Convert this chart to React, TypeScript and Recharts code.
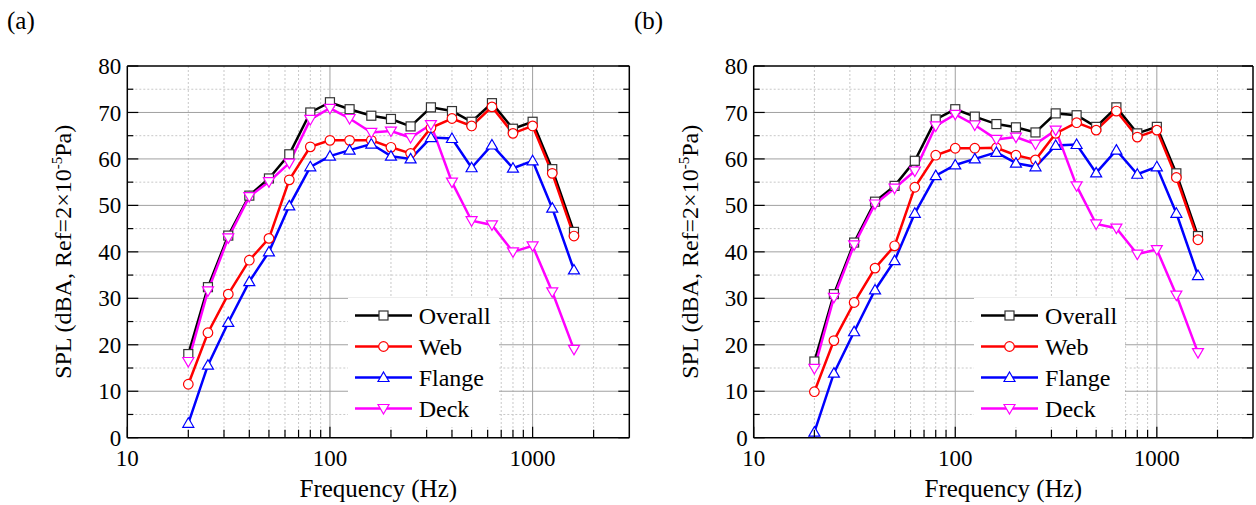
import { CartesianGrid, Label, Legend, Line, LineChart, XAxis, YAxis } from "recharts";

const FONT = '"Liberation Serif", "Times New Roman", serif';

// 1/3-octave band centre frequencies (Hz)
const FREQS = [20, 25, 31.5, 40, 50, 63, 80, 100, 125, 160, 200, 250, 315, 400, 500, 630, 800, 1000, 1250, 1600];

// panel (a)
const A_OVERALL = [18.0, 32.4, 43.5, 52.1, 55.8, 61.0, 70.0, 72.2, 70.7, 69.3, 68.6, 67.0, 71.1, 70.3, 68.0, 72.0, 66.5, 68.0, 57.8, 44.3];
const A_WEB = [11.5, 22.6, 30.9, 38.2, 42.9, 55.5, 62.6, 64.0, 64.0, 64.0, 62.5, 61.2, 66.7, 68.7, 67.1, 71.2, 65.5, 67.1, 56.9, 43.4];
const A_FLANGE = [3.1, 15.6, 24.8, 33.6, 40.0, 49.9, 58.3, 60.6, 61.9, 63.2, 60.6, 60.0, 64.6, 64.4, 58.1, 63.0, 58.0, 59.6, 49.4, 36.1];
const A_DECK = [16.4, 31.6, 43.0, 51.9, 55.1, 59.1, 68.5, 70.9, 68.7, 65.7, 66.0, 64.6, 67.4, 55.0, 46.7, 45.8, 40.0, 41.3, 31.4, 19.0];

// panel (b)
const B_OVERALL = [16.4, 30.9, 42.0, 50.8, 54.2, 59.6, 68.5, 70.7, 69.1, 67.5, 66.8, 65.7, 69.8, 69.4, 66.9, 71.1, 65.5, 66.9, 56.9, 43.4];
const B_WEB = [9.9, 20.9, 29.1, 36.5, 41.3, 53.9, 60.8, 62.3, 62.3, 62.4, 60.8, 59.8, 65.5, 67.8, 66.2, 70.3, 64.7, 66.2, 56.0, 42.6];
const B_FLANGE = [1.2, 13.9, 22.8, 31.8, 38.1, 48.3, 56.4, 58.7, 60.0, 61.4, 59.1, 58.3, 62.9, 63.1, 57.0, 61.9, 56.7, 58.3, 48.3, 34.9];
const B_DECK = [14.9, 30.2, 41.5, 50.3, 53.7, 57.4, 67.1, 69.6, 67.3, 64.2, 64.7, 63.2, 66.2, 54.2, 46.0, 45.1, 39.5, 40.5, 30.7, 18.3];

const X_TICKS = [10, 20, 30, 40, 50, 60, 70, 80, 90, 100, 200, 300, 400, 500, 600, 700, 800, 900, 1000, 2000];
const X_MAJOR = [10, 100, 1000];
const X_GRID_MINOR = [20, 30, 40, 50, 60, 70, 80, 90, 200, 300, 400, 500, 600, 700, 800, 900, 2000];
const X_GRID_MAJOR = [100, 1000];
const Y_TICKS = [0, 5, 10, 15, 20, 25, 30, 35, 40, 45, 50, 55, 60, 65, 70, 75, 80];
const Y_GRID_MINOR = [5, 15, 25, 35, 45, 55, 65, 75];
const Y_GRID_MAJOR = [10, 20, 30, 40, 50, 60, 70];

const SERIES = [
  { key: "overall", name: "Overall", color: "#000000", shape: "square" },
  { key: "web", name: "Web", color: "#ff0000", shape: "circle" },
  { key: "flange", name: "Flange", color: "#0000ff", shape: "up" },
  { key: "deck", name: "Deck", color: "#ff00ff", shape: "down" },
];

const toRows = (overall: number[], web: number[], flange: number[], deck: number[]) =>
  FREQS.map((f, i) => ({ f, overall: overall[i], web: web[i], flange: flange[i], deck: deck[i] }));

function Marker({ cx, cy, shape, color }: { cx?: number; cy?: number; shape: string; color: string }) {
  if (cx == null || cy == null) return null;
  const st = { fill: "#fff", stroke: color, strokeWidth: 1.2 };
  if (shape === "square")
    return <rect x={cx - 4.5} y={cy - 4.5} width={9} height={9} {...st} stroke="#333" />;
  if (shape === "circle") return <circle cx={cx} cy={cy} r={4.8} {...st} />;
  if (shape === "up")
    return <polygon points={`${cx},${cy - 5.5} ${cx + 5.5},${cy + 4} ${cx - 5.5},${cy + 4}`} {...st} />;
  return <polygon points={`${cx},${cy + 5.5} ${cx + 5.5},${cy - 4} ${cx - 5.5},${cy - 4}`} {...st} />;
}

// inward tick marks, labels outside (bottom/left only)
function AxisTick(props: any) {
  const { x, y, payload, side } = props;
  const v = payload.value;
  const isX = side === "bottom" || side === "top";
  const major = isX ? X_MAJOR.includes(v) : v % 10 === 0;
  const len = isX ? (major ? 11 : 8) : major ? 11 : 6;
  const tick = { stroke: "#000", strokeWidth: 1.2 };
  if (side === "bottom")
    return (
      <g>
        <line x1={x} y1={y} x2={x} y2={y - len} {...tick} />
        {major && (
          <text x={x} y={y + 28.5} textAnchor="middle" fontSize={23} fontFamily={FONT} fill="#000">
            {v}
          </text>
        )}
      </g>
    );
  if (side === "top") return <line x1={x} y1={y} x2={x} y2={y + len} {...tick} />;
  if (side === "left")
    return (
      <g>
        <line x1={x} y1={y} x2={x + len} y2={y} {...tick} />
        {major && (
          <text x={x - 6} y={y} dy="0.35em" textAnchor="end" fontSize={23} fontFamily={FONT} fill="#000">
            {v}
          </text>
        )}
      </g>
    );
  return <line x1={x} y1={y} x2={x - len} y2={y} {...tick} />;
}

function LegendBox({ payload }: any) {
  const keys = (payload ?? []).map((p: any) => p.dataKey);
  const items = SERIES.filter((s) => keys.includes(s.key));
  return (
    <div style={{ background: "#fff", width: 151, height: 129, paddingTop: 2, boxSizing: "border-box" }}>
      {items.map((s) => (
        <div key={s.key} style={{ display: "flex", alignItems: "center", height: 31 }}>
          <svg width={71} height={31} style={{ flex: "none" }}>
            <line x1={7} x2={64} y1={15.5} y2={15.5} stroke={s.color} strokeWidth={2.5} />
            <Marker cx={35.5} cy={15.5} shape={s.shape} color={s.color} />
          </svg>
          <span style={{ fontSize: 24, fontFamily: FONT, color: "#000", lineHeight: 1 }}>{s.name}</span>
        </div>
      ))}
    </div>
  );
}

function XTitle({ viewBox }: any) {
  if (!viewBox) return null;
  return (
    <text x={viewBox.x + viewBox.width / 2} y={viewBox.y + 59.5} textAnchor="middle" fontSize={25} fontFamily={FONT} fill="#000">
      Frequency (Hz)
    </text>
  );
}

function YTitle({ viewBox }: any) {
  if (!viewBox) return null;
  const x = viewBox.x - 55;
  const y = viewBox.y + viewBox.height / 2;
  return (
    <text x={x} y={y} transform={`rotate(-90, ${x}, ${y})`} textAnchor="middle" fontSize={24} fontFamily={FONT} fill="#000">
      SPL (dBA, Ref=2×10
      <tspan dy={-9} fontSize={15}>-5</tspan>
      <tspan dy={9}>Pa)</tspan>
    </text>
  );
}

function Panel({ data, tag, left, width, margin }: any) {
  const axisLine = { stroke: "#000", strokeWidth: 1.5 };
  return (
    <div style={{ position: "absolute", left, top: 0, width, height: 505 }}>
      <div style={{ position: "absolute", left: 7, top: 8, fontSize: 25, fontFamily: FONT, lineHeight: 1, zIndex: 2 }}>
        {tag}
      </div>
      <LineChart width={width} height={505} data={data} margin={margin}>
        <CartesianGrid horizontalValues={Y_GRID_MINOR} verticalValues={X_GRID_MINOR} stroke="#c8c8c8" strokeDasharray="2 2" />
        <CartesianGrid horizontalValues={Y_GRID_MAJOR} verticalValues={X_GRID_MAJOR} stroke="#a0a0a0" />
        <XAxis
          dataKey="f"
          type="number"
          scale="log"
          domain={[10, 3000]}
          allowDataOverflow
          ticks={X_TICKS}
          interval={0}
          height={1}
          tickSize={0}
          tickMargin={0}
          tickLine={false}
          axisLine={axisLine}
          tick={(p: any) => <AxisTick {...p} side="bottom" />}
        >
          <Label content={<XTitle />} />
        </XAxis>
        <XAxis
          xAxisId="top"
          orientation="top"
          type="number"
          scale="log"
          domain={[10, 3000]}
          allowDataOverflow
          ticks={X_TICKS}
          interval={0}
          height={1}
          tickSize={0}
          tickMargin={0}
          tickLine={false}
          axisLine={axisLine}
          tick={(p: any) => <AxisTick {...p} side="top" />}
        />
        <YAxis
          type="number"
          domain={[0, 80]}
          allowDataOverflow
          ticks={Y_TICKS}
          interval={0}
          width={1}
          tickSize={0}
          tickMargin={0}
          tickLine={false}
          axisLine={axisLine}
          tick={(p: any) => <AxisTick {...p} side="left" />}
        >
          <Label content={<YTitle />} />
        </YAxis>
        <YAxis
          yAxisId="right"
          orientation="right"
          type="number"
          domain={[0, 80]}
          allowDataOverflow
          ticks={Y_TICKS}
          interval={0}
          width={1}
          tickSize={0}
          tickMargin={0}
          tickLine={false}
          axisLine={axisLine}
          tick={(p: any) => <AxisTick {...p} side="right" />}
        />
        {SERIES.map((s) => (
          <Line
            key={s.key}
            dataKey={s.key}
            name={s.name}
            type="linear"
            stroke={s.color}
            strokeWidth={2.5}
            isAnimationActive={false}
            activeDot={false}
            dot={(p: any) => <Marker key={`${s.key}-${p.index}`} cx={p.cx} cy={p.cy} shape={s.shape} color={s.color} />}
          />
        ))}
        <Legend
          layout="vertical"
          align="center"
          verticalAlign="middle"
          content={<LegendBox />}
          wrapperStyle={{ left: margin.left + 221.4, top: 298, width: 151, height: 129 }}
        />
      </LineChart>
    </div>
  );
}

const DATA_A = toRows(A_OVERALL, A_WEB, A_FLANGE, A_DECK);
const DATA_B = toRows(B_OVERALL, B_WEB, B_FLANGE, B_DECK);

export default function App() {
  return (
    <div style={{ position: "absolute", left: 0, top: 0, width: 1256, height: 505, background: "#fff", overflow: "hidden" }}>
      <Panel data={DATA_A} tag="(a)" left={0} width={640} margin={{ top: 65, right: 9.7, bottom: 66.3, left: 126.3 }} />
      <Panel data={DATA_B} tag="(b)" left={627} width={629} margin={{ top: 65, right: 2, bottom: 66.3, left: 125.7 }} />
    </div>
  );
}
